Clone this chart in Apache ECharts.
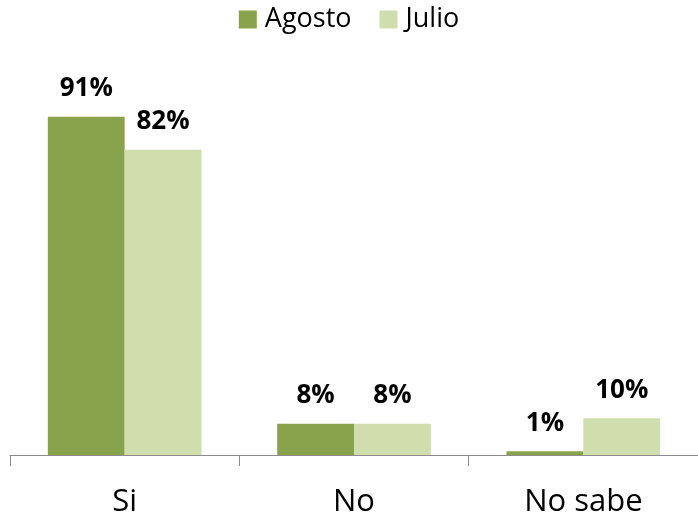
<!DOCTYPE html>
<html>
<head>
<meta charset="utf-8">
<script src="https://cdn.jsdelivr.net/npm/echarts@6/dist/echarts.min.js"></script>
<style>
  html, body { margin: 0; padding: 0; background: #fff; }
  #chart { width: 698px; height: 519px; }
</style>
</head>
<body>
<div id="chart"></div>
<script>
const categories = ['Si', 'No', 'No sabe']
const agosto = [91.2, 8.4, 1.0]
const julio = [82.3, 8.4, 9.9]

const FONT = '"Open Sans", "Noto Sans", sans-serif'

function pctLabel(p) {
  return Math.round(p.value) + '%'
}

function barSeries(name, data, color) {
  return {
    name: name,
    type: 'bar',
    data: data,
    barGap: '0%',
    barCategoryGap: '33%',
    itemStyle: { color: color },
    label: {
      show: true,
      position: 'top',
      distance: 15,
      formatter: pctLabel,
      color: '#000',
      fontSize: 26,
      fontWeight: 'bold',
      fontFamily: FONT
    }
  }
}

const chart = echarts.init(document.getElementById('chart'), null, { renderer: 'canvas' })
chart.setOption({
  animation: false,
  textStyle: { fontFamily: FONT },
  legend: {
    top: 1,
    left: 'center',
    itemWidth: 18,
    itemHeight: 18,
    itemGap: 28,
    icon: 'rect',
    textStyle: { fontSize: 27, color: '#000', fontFamily: FONT, padding: [0, 0, 0, 3] }
  },
  grid: { left: 10, right: 0, top: 84, bottom: 64 },
  xAxis: {
    type: 'category',
    data: categories,
    axisLine: { lineStyle: { color: '#8c8c8c', width: 1 } },
    axisTick: { show: true, length: 11, lineStyle: { color: '#8c8c8c' } },
    axisLabel: { margin: 32, fontSize: 31, color: '#000', fontFamily: FONT }
  },
  yAxis: {
    type: 'value',
    min: 0,
    max: 100,
    show: false,
    splitLine: { show: false }
  },
  series: [
    barSeries('Agosto', agosto, '#89a34d'),
    barSeries('Julio', julio, '#cfdeac')
  ]
})
</script>
</body>
</html>
